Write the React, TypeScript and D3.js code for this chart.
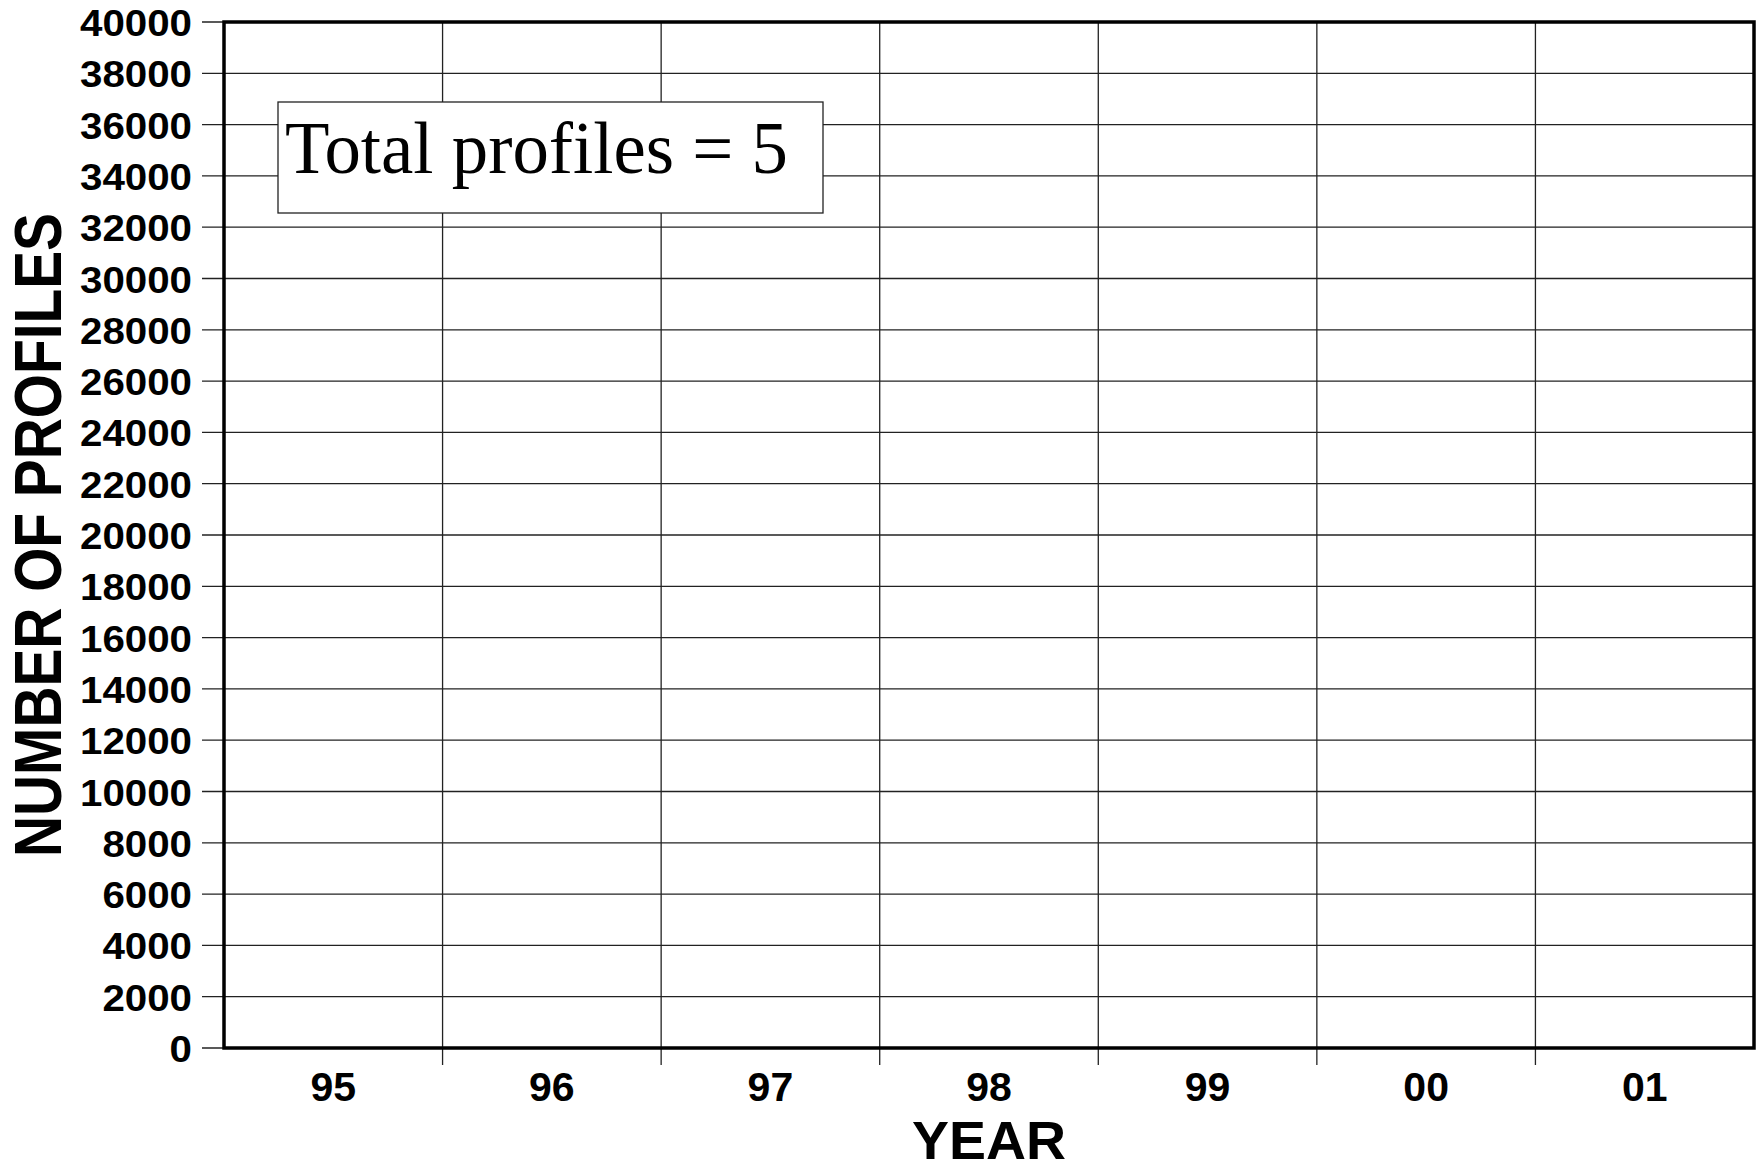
import React from "react";
import * as d3 from "d3";

const years = ["95", "96", "97", "98", "99", "00", "01"];
const profiles = [0, 0, 0, 0, 0, 0, 5];
const yTicks = d3.range(0, 40001, 2000);
const yMax = 40000;
const annotation = "Total profiles = " + d3.sum(profiles);
const xTitle = "YEAR";
const yTitle = "NUMBER OF PROFILES";

export default function App() {
  const W = 1756, H = 1171;
  const left = 224, right = 1754, top = 22, bottom = 1048;
  const x = d3.scaleBand().domain(years).range([left, right]).paddingInner(0).paddingOuter(0);
  const y = d3.scaleLinear().domain([0, yMax]).range([bottom, top]);
  const bw = x.bandwidth();
  const boundaries = years.slice(1).map((yr) => x(yr) as number);
  const sans = "'Liberation Sans', Arial, sans-serif";
  return (
    <svg width={W} height={H} style={{ position: "absolute", left: 0, top: 0, background: "#fff" }}>
      <rect x={0} y={0} width={W} height={H} fill="#fff" />
      {yTicks.map((t) => (
        <line key={"h" + t} x1={202} x2={right} y1={y(t)} y2={y(t)} stroke="#222" strokeWidth={1.3} />
      ))}
      {boundaries.map((b, i) => (
        <line key={"v" + i} x1={b} x2={b} y1={top} y2={1065} stroke="#222" strokeWidth={1.3} />
      ))}
      {profiles.map((v, i) => (
        <rect key={"b" + i} x={(x(years[i]) as number) + bw * 0.2} width={bw * 0.6} y={y(v)} height={bottom - y(v)} fill="#000" />
      ))}
      <rect x={left} y={top} width={right - left} height={bottom - top} fill="none" stroke="#000" strokeWidth={3.5} />
      {yTicks.map((t) => (
        <text key={"yl" + t} x={192} y={y(t) + 14} textAnchor="end" fontFamily={sans} fontWeight="bold" fontSize={36}
          textLength={String(t).length * 22.4} lengthAdjust="spacingAndGlyphs">
          {String(t)}
        </text>
      ))}
      {years.map((yr) => (
        <text key={"xl" + yr} x={(x(yr) as number) + bw / 2} y={1101} textAnchor="middle" fontFamily={sans} fontWeight="bold" fontSize={41}>
          {yr}
        </text>
      ))}
      <text x={(left + right) / 2} y={1159} textAnchor="middle" fontFamily={sans} fontWeight="bold" fontSize={54}
        textLength={154} lengthAdjust="spacingAndGlyphs">
        {xTitle}
      </text>
      <text transform={`translate(61,${(top + bottom) / 2}) rotate(-90)`} textAnchor="middle" fontFamily={sans} fontWeight="bold" fontSize={66}
        textLength={644} lengthAdjust="spacingAndGlyphs">
        {yTitle}
      </text>
      <rect x={278} y={102} width={545} height={111} fill="#fff" stroke="#222" strokeWidth={1.3} />
      <text x={285} y={173} fontFamily="'Liberation Serif', 'Times New Roman', serif" fontSize={74}
        textLength={503} lengthAdjust="spacingAndGlyphs">
        {annotation}
      </text>
    </svg>
  );
}
